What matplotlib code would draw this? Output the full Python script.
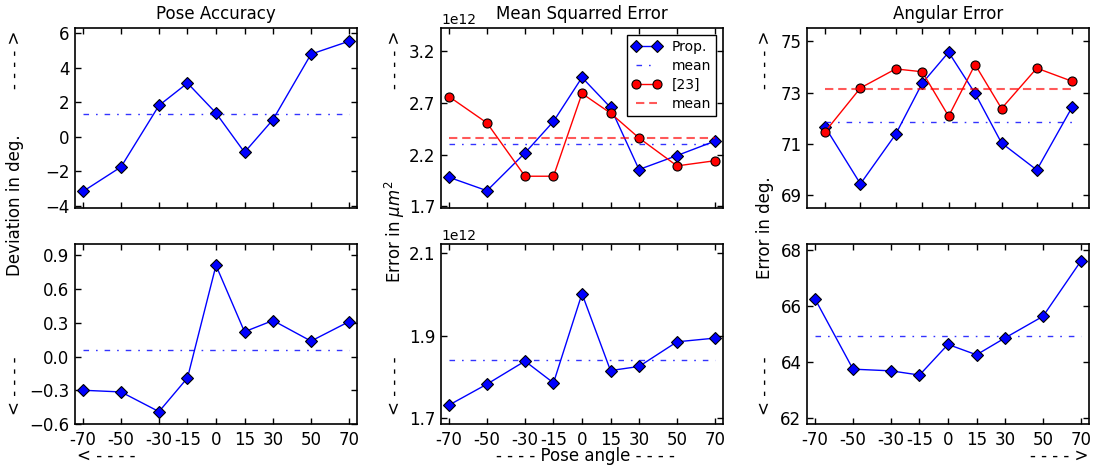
import numpy as np
import matplotlib
matplotlib.use("Agg")
import matplotlib.pyplot as plt

plt.rcParams['lines.scale_dashes'] = False

# ---------------- data ----------------
angles = [-70, -50, -30, -15, 0, 15, 30, 50, 70]
angle_labels = ['-70', '-50', '-30', '-15', '0', '15', '30', '50', '70']

pose_dev_top = [-3.17, -1.75, 1.82, 3.12, 1.38, -0.90, 1.00, 4.80, 5.55]
pose_dev_bottom = [-0.30, -0.315, -0.49, -0.19, 0.81, 0.22, 0.32, 0.137, 0.31]

mse_prop_top = [1.98, 1.85, 2.215, 2.52, 2.945, 2.655, 2.055, 2.19, 2.33]   # x1e12
mse_ref_top = [2.76, 2.505, 1.99, 1.99, 2.79, 2.60, 2.36, 2.09, 2.14]       # x1e12
mse_prop_bottom = [1.731, 1.782, 1.838, 1.785, 2.002, 1.815, 1.825, 1.885, 1.894]  # x1e12

ang_prop_top = [71.66, 69.45, 71.38, 73.36, 74.57, 72.97, 71.04, 69.99, 72.43]
ang_ref_top = [71.48, 73.18, 73.92, 73.81, 72.08, 74.09, 72.38, 73.95, 73.44]
ang_prop_bottom = [66.25, 63.75, 63.69, 63.54, 64.63, 64.26, 64.86, 65.63, 67.60]

titles = ['Pose Accuracy', 'Mean Squarred Error', 'Angular Error']

# ---------------- figure ----------------
W, H = 1094, 465
fig = plt.figure(figsize=(W / 100, H / 100), dpi=100)

col_left = [75, 441, 807]
ax_w = 282
row_top = [28.3, 244]
ax_h = 180


def make_ax(ci, ri):
    l = col_left[ci] / W
    b = 1 - (row_top[ri] + ax_h) / H
    return fig.add_axes([l, b, ax_w / W, ax_h / H])


BLUE = (0, 0, 1)
RED = (1, 0, 0)


def style(ax, xlim=(-74.2, 74.2)):
    ax.set_xlim(*xlim)
    ax.set_xticks(angles)
    ax.tick_params(axis='both', which='major', direction='in', length=4.5,
                   width=1, top=True, right=True, labelsize=12)
    ax.tick_params(axis='x', pad=5)
    ax.tick_params(axis='y', pad=4)
    for s in ax.spines.values():
        s.set_linewidth(1.2)


def plot_prop(ax, y, label=None):
    ax.plot(angles, y, '-', color=BLUE, lw=1, marker='D', ms=6.5,
            mfc=BLUE, mec='black', mew=0.8, label=label)
    m = np.mean(y)
    ax.plot([angles[0], angles[-1]], [m, m], color=BLUE, lw=1, alpha=0.8,
            dashes=(4, 5, 1.2, 5), label='mean' if label else None)


def plot_ref(ax, y, label=None):
    ax.plot(angles, y, '-', color=RED, lw=1, marker='o', ms=6.5,
            mfc=RED, mec='black', mew=0.8, label=label)
    m = np.mean(y)
    ax.plot([angles[0], angles[-1]], [m, m], color=RED, lw=1.5, alpha=0.65,
            dashes=(6, 3.5), label='mean' if label else None)


# top-left
ax = make_ax(0, 0)
plot_prop(ax, pose_dev_top)
style(ax)
ax.set_ylim(-4.15, 6.3)
ax.set_yticks([-4, -2, 0, 2, 4, 6])
ax.set_xticklabels([])
ax.set_title(titles[0], fontsize=12, pad=7)

# bottom-left
ax = make_ax(0, 1)
plot_prop(ax, pose_dev_bottom)
style(ax)
ax.set_ylim(-0.6, 1.0)
ax.set_yticks([-0.6, -0.3, 0.0, 0.3, 0.6, 0.9])
ax.set_xticklabels(angle_labels)

# top-middle
ax = make_ax(1, 0)
plot_prop(ax, np.array(mse_prop_top) * 1e12, label='Prop.')
plot_ref(ax, np.array(mse_ref_top) * 1e12, label='[23]')
style(ax)
ax.set_ylim(1.68e12, 3.42e12)
ax.set_yticks(np.array([1.7, 2.2, 2.7, 3.2]) * 1e12)
ax.set_xticklabels([])
ax.set_title(titles[1], fontsize=12, pad=7)
leg = ax.legend(loc='upper right', numpoints=2, fontsize=10, fancybox=False,
                edgecolor='black', framealpha=1, handlelength=2.1,
                handletextpad=0.8, borderpad=0.35, labelspacing=0.35,
                borderaxespad=0.5)
leg.get_frame().set_linewidth(1.0)

# bottom-middle
ax = make_ax(1, 1)
plot_prop(ax, np.array(mse_prop_bottom) * 1e12)
style(ax)
ax.set_ylim(1.685e12, 2.123e12)
ax.set_yticks(np.array([1.7, 1.9, 2.1]) * 1e12)
ax.set_xticklabels(angle_labels)

# top-right
ax = make_ax(2, 0)
plot_prop(ax, ang_prop_top)
plot_ref(ax, ang_ref_top)
style(ax, xlim=(-80.3, 79.6))
ax.set_ylim(68.5, 75.5)
ax.set_yticks([69, 71, 73, 75])
ax.set_xticklabels([])
ax.set_title(titles[2], fontsize=12, pad=7)

# bottom-right
ax = make_ax(2, 1)
plot_prop(ax, ang_prop_bottom)
style(ax)
ax.set_ylim(61.8, 68.2)
ax.set_yticks([62, 64, 66, 68])
ax.set_xticklabels(angle_labels)


# ---------------- labels / arrows ----------------
def ftext(x, y, s, **kw):
    fig.text(x / W, 1 - y / H, s, ha='center', va='center', fontsize=12, **kw)


for xc, lab, yc in [(15, 'Deviation in deg.', 205),
                    (395, r'Error in $\mu m^2$', 232),
                    (765, 'Error in deg.', 228)]:
    ftext(xc, yc, lab, rotation=90)
    ftext(xc, 60, '- - - - >', rotation=90)
    ftext(xc, 386, '< - - - -', rotation=90)

ftext(106, 456, '< - - - -')
ftext(585, 456, '- - - - Pose angle - - - -')
ftext(1059, 456, '- - - - >')

fig.savefig('out.png', dpi=100)
